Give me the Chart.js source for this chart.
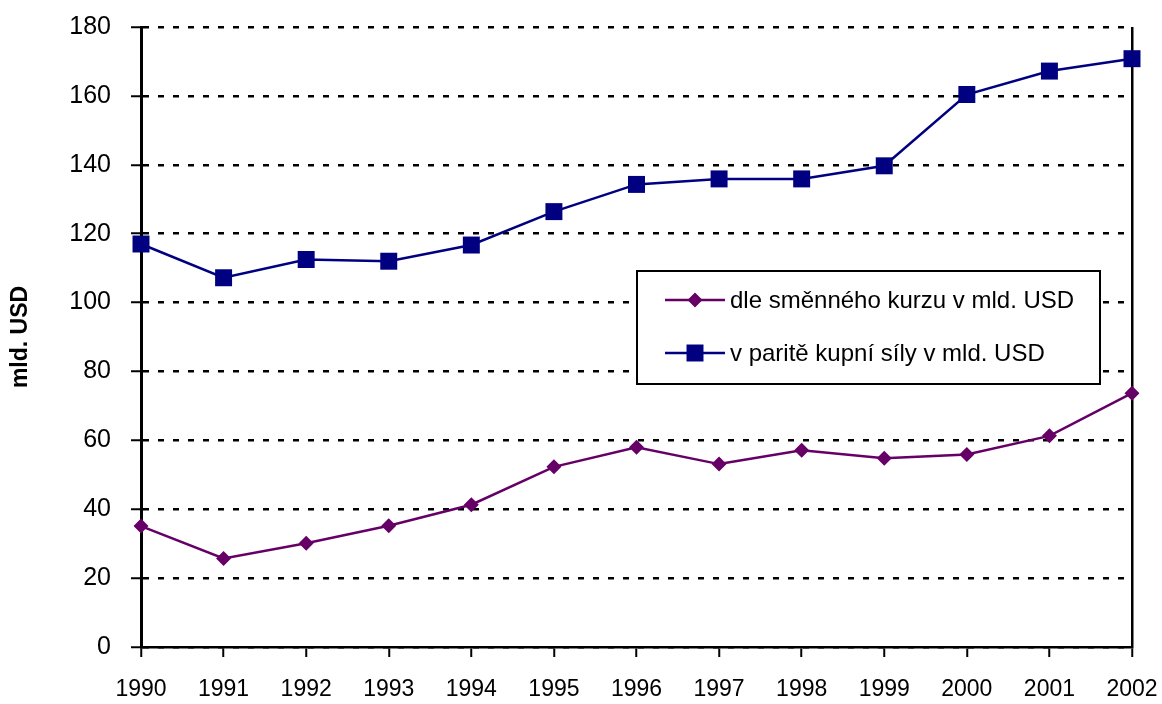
<!DOCTYPE html>
<html lang="cs">
<head>
  <meta charset="UTF-8">
  <title>HDP v mld. USD</title>
  <script src="https://cdn.jsdelivr.net/npm/chart.js"></script>
  <style>
    html, body { margin: 0; padding: 0; background: #fff; }
    .wrap { width: 1162px; height: 704px; position: relative; }
  </style>
</head>
<body>
  <div class="wrap"><canvas id="c"></canvas></div>
  <script>
    const years = ['1990', '1991', '1992', '1993', '1994', '1995', '1996', '1997', '1998', '1999', '2000', '2001', '2002'];
    const kurz = [35.1, 25.7, 30.1, 35.2, 41.3, 52.3, 58.0, 53.1, 57.1, 54.8, 55.9, 61.3, 73.7];
    const parita = [117.0, 107.2, 112.5, 112.0, 116.7, 126.4, 134.3, 135.9, 135.9, 139.7, 160.4, 167.2, 170.8];
    const seriesNames = ['dle směnného kurzu v mld. USD', 'v paritě kupní síly v mld. USD'];
    const yTicks = [0, 20, 40, 60, 80, 100, 120, 140, 160, 180];

    const FONT = 'Liberation Sans, Arial, sans-serif';

    // legend box inside the plot, Excel style
    const boxLegend = {
      id: 'boxLegend',
      afterDraw(chart) {
        const ctx = chart.ctx;
        const x0 = 637, y0 = 271, w = 463, h = 113;
        ctx.save();
        ctx.fillStyle = '#fff';
        ctx.fillRect(x0, y0, w, h);
        ctx.strokeStyle = '#000';
        ctx.lineWidth = 2;
        ctx.strokeRect(x0, y0, w, h);
        chart.data.datasets.forEach((ds, i) => {
          const cy = y0 + 29 + i * 53;
          ctx.strokeStyle = ds.borderColor;
          ctx.lineWidth = ds.borderWidth;
          ctx.beginPath();
          ctx.moveTo(x0 + 28, cy);
          ctx.lineTo(x0 + 88, cy);
          ctx.stroke();
          ctx.fillStyle = ds.pointBackgroundColor;
          const cx = x0 + 58;
          if (ds.pointStyle === 'rect') {
            const s = Math.SQRT1_2 * ds.pointRadius;
            ctx.fillRect(cx - s, cy - s, 2 * s, 2 * s);
          } else {
            const r = ds.pointRadius;
            ctx.beginPath();
            ctx.moveTo(cx - r, cy);
            ctx.lineTo(cx, cy - r);
            ctx.lineTo(cx + r, cy);
            ctx.lineTo(cx, cy + r);
            ctx.closePath();
            ctx.fill();
          }
          ctx.fillStyle = '#000';
          ctx.font = '24px ' + FONT;
          ctx.textBaseline = 'middle';
          ctx.textAlign = 'left';
          ctx.fillText(ds.label, x0 + 93, cy + 1);
        });
        ctx.restore();
      }
    };

    // keep the plot box where the padding puts it
    function noOverflow(scale) {
      scale.paddingTop = 0;
      scale.paddingBottom = 0;
      scale.paddingLeft = 0;
      scale.paddingRight = 0;
    }

    new Chart(document.getElementById('c'), {
      type: 'line',
      data: {
        labels: years,
        datasets: [
          {
            label: seriesNames[0],
            data: kurz,
            borderColor: '#660066',
            backgroundColor: '#660066',
            pointBackgroundColor: '#660066',
            pointBorderColor: '#660066',
            pointStyle: 'rectRot',
            pointRadius: 7.5,
            pointBorderWidth: 0,
            borderWidth: 2.5,
            tension: 0
          },
          {
            label: seriesNames[1],
            data: parita,
            borderColor: '#000080',
            backgroundColor: '#000080',
            pointBackgroundColor: '#000080',
            pointBorderColor: '#000080',
            pointStyle: 'rect',
            pointRadius: 12,
            pointBorderWidth: 0,
            borderWidth: 2.5,
            tension: 0
          }
        ]
      },
      options: {
        responsive: true,
        maintainAspectRatio: false,
        animation: false,
        layout: { padding: { top: 27, right: 30, left: 0, bottom: 0 } },
        plugins: {
          legend: { display: false },
          tooltip: { enabled: false },
          title: { display: false }
        },
        scales: {
          x: {
            offset: false,
            border: { color: '#000', width: 2.5 },
            grid: {
              color: c => c.index === years.length - 1 ? '#000' : 'rgba(0,0,0,0)',
              lineWidth: 2.5,
              tickColor: '#000',
              tickLength: 10,
              tickWidth: 2
            },
            ticks: {
              color: '#000',
              font: { family: FONT, size: 23 },
              maxRotation: 0,
              autoSkip: false,
              padding: 19
            },
            afterFit(scale) { scale.height = 57; noOverflow(scale); }
          },
          y: {
            min: 0,
            max: 180,
            afterBuildTicks(scale) { scale.ticks = yTicks.map(v => ({ value: v })); },
            border: { color: '#000', width: 3, dash: [6, 9] },
            grid: {
              color: '#000',
              lineWidth: 2.5,
              tickBorderDash: [],
              tickColor: '#000',
              tickLength: 10,
              tickWidth: 2
            },
            ticks: {
              color: '#000',
              font: { family: FONT, size: 25 },
              padding: 20
            },
            title: {
              display: true,
              text: 'mld. USD',
              color: '#000',
              font: { family: FONT, size: 23, weight: 'bold' },
              padding: { top: 7, bottom: 0 }
            },
            afterFit(scale) { scale.width = 141; noOverflow(scale); }
          }
        }
      },
      plugins: [boxLegend]
    });
  </script>
</body>
</html>
